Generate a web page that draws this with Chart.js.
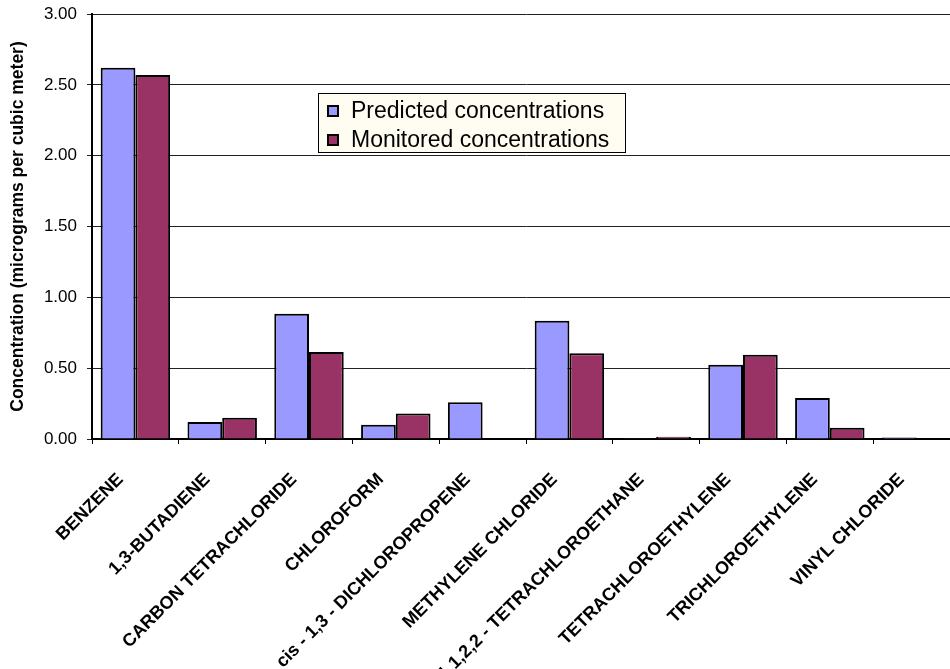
<!DOCTYPE html>
<html>
<head>
<meta charset="utf-8">
<script src="https://cdn.jsdelivr.net/npm/chart.js@4/dist/chart.umd.min.js"></script>
<style>
  html, body { margin: 0; padding: 0; background: #fff; overflow: hidden; }
  #wrap { position: relative; width: 960px; height: 669px; }
</style>
</head>
<body>
<div id="wrap"><canvas id="myChart"></canvas></div>
<script>
const categories = [
  'BENZENE', '1,3-BUTADIENE', 'CARBON TETRACHLORIDE', 'CHLOROFORM',
  'cis - 1,3 - DICHLOROPROPENE', 'METHYLENE CHLORIDE', '1,1,2,2 - TETRACHLOROETHANE',
  'TETRACHLOROETHYLENE', 'TRICHLOROETHYLENE', 'VINYL CHLORIDE'
];
const predicted = [2.62, 0.12, 0.885, 0.10, 0.26, 0.835, 0.006, 0.525, 0.29, 0.01];
const monitored = [2.57, 0.15, 0.615, 0.18, 0, 0.605, 0.016, 0.595, 0.08, 0];
const seriesLabels = ['Predicted concentrations', 'Monitored concentrations'];
const yTicks = [0, 0.5, 1.0, 1.5, 2.0, 2.5, 3.0];
const yTitle = 'Concentration (micrograms per cubic meter)';

const FONT = "'Liberation Sans', Arial, sans-serif";

// legend box drawn inside the plot, like the original
const boxLegend = {
  id: 'boxLegend',
  afterDraw(chart) {
    const ctx = chart.ctx;
    const x = 318, y = 93, w = 307, h = 59;
    ctx.save();
    ctx.fillStyle = '#FFFCF2';
    ctx.fillRect(x, y, w, h);
    ctx.strokeStyle = '#000';
    ctx.lineWidth = 1;
    ctx.strokeRect(x + 0.5, y + 0.5, w, h);
    ctx.font = '23px ' + FONT;
    ctx.textBaseline = 'middle';
    chart.data.datasets.forEach((ds, i) => {
      const cy = y + 18 + i * 29;
      ctx.fillStyle = ds.backgroundColor;
      ctx.fillRect(328, cy - 5, 10, 10);
      ctx.lineWidth = 2;
      ctx.strokeStyle = '#000';
      ctx.strokeRect(328, cy - 5, 10, 10);
      ctx.fillStyle = '#000';
      ctx.fillText(ds.label, 351, cy + 1);
    });
    ctx.restore();
  }
};

const ctx = document.getElementById('myChart');

new Chart(ctx, {
  type: 'bar',
  data: {
    labels: categories,
    datasets: [
      {
        label: seriesLabels[0],
        data: predicted,
        backgroundColor: '#9999FF',
        borderColor: '#000',
        borderWidth: 2,
        borderSkipped: 'bottom'
      },
      {
        label: seriesLabels[1],
        data: monitored,
        backgroundColor: '#993366',
        borderColor: '#000',
        borderWidth: 2,
        borderSkipped: 'bottom'
      }
    ]
  },
  options: {
    responsive: true,
    maintainAspectRatio: false,
    animation: false,
    categoryPercentage: 0.8,
    barPercentage: 1.0,
    layout: { padding: { top: 14, left: 0, right: 0, bottom: 0 } },
    plugins: {
      legend: { display: false },
      tooltip: { enabled: false }
    },
    scales: {
      x: {
        offset: true,
        grid: {
          offset: true,
          drawOnChartArea: false,
          drawTicks: true,
          tickLength: 5,
          color: '#000'
        },
        border: { color: '#000', width: 2 },
        ticks: {
          autoSkip: false,
          minRotation: 45,
          maxRotation: 45,
          color: '#000',
          padding: 25,
          labelOffset: -15,
          font: { family: FONT, size: 18, weight: 'bold' }
        },
        afterFit(scale) { scale.height = 230; }
      },
      y: {
        min: 0,
        max: 3,
        afterBuildTicks(scale) {
          scale.ticks = yTicks.map(v => ({ value: v }));
        },
        grid: {
          color: '#222',
          lineWidth: 1,
          drawTicks: true,
          tickLength: 5
        },
        border: { color: '#000', width: 2 },
        ticks: {
          color: '#000',
          padding: 10,
          font: { family: FONT, size: 17 },
          callback: v => Number(v).toFixed(2)
        },
        title: {
          display: true,
          text: yTitle,
          color: '#000',
          padding: { top: 8, bottom: 0 },
          font: { family: FONT, size: 17.5, weight: 'bold' }
        },
        afterFit(scale) {
          scale.width = 92;
          scale.paddingTop = 0;
          scale.paddingBottom = 0;
        }
      }
    }
  },
  plugins: [boxLegend]
});
</script>
</body>
</html>
